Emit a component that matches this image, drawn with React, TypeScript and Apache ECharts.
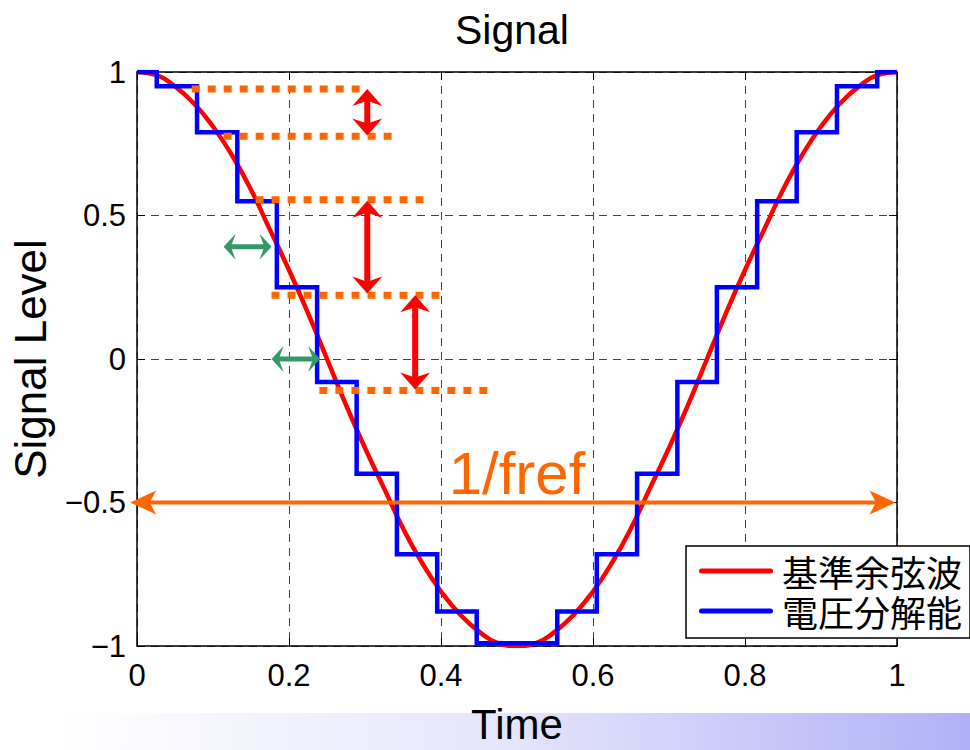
import React, { useEffect, useRef } from "react";
import * as echarts from "echarts";

// ---- axes ----
const xTickLabels = ["0", "0.2", "0.4", "0.6", "0.8", "1"];
const yTickLabels: Record<string, string> = { "-1": "−1", "-0.5": "−0.5", "0": "0", "0.5": "0.5", "1": "1" };

// ---- reference cosine (red) ----
const refTime = [
  0, 0.025, 0.05, 0.075, 0.1, 0.125, 0.15, 0.175, 0.2, 0.225, 0.25, 0.275, 0.3, 0.325, 0.35, 0.375, 0.4, 0.425, 0.45, 0.475,
  0.5, 0.525, 0.55, 0.575, 0.6, 0.625, 0.65, 0.675, 0.7, 0.725, 0.75, 0.775, 0.8, 0.825, 0.85, 0.875, 0.9, 0.925, 0.95, 0.975, 1,
];
const refLevel = [
  1, 0.99, 0.95, 0.89, 0.81, 0.71, 0.59, 0.45, 0.31, 0.16, 0, -0.16, -0.31, -0.45, -0.59, -0.71, -0.81, -0.89, -0.95, -0.99,
  -1, -0.99, -0.95, -0.89, -0.81, -0.71, -0.59, -0.45, -0.31, -0.16, 0, 0.16, 0.31, 0.45, 0.59, 0.71, 0.81, 0.89, 0.95, 0.99, 1,
];

// ---- quantised steps (blue) ----
const stepEdges = [
  0, 0.026, 0.079, 0.132, 0.184, 0.237, 0.289, 0.342, 0.395, 0.447, 0.553, 0.605, 0.658, 0.711, 0.763, 0.816, 0.868, 0.921, 0.974, 1,
];
const stepLevels = [1, 0.95, 0.79, 0.55, 0.25, -0.08, -0.4, -0.68, -0.88, -0.99, -0.88, -0.68, -0.4, -0.08, 0.25, 0.55, 0.79, 0.95, 1];

// ---- annotations (data coordinates: t1, v1, t2, v2) ----
const dottedLines = [
  [0.072, 0.941, 0.293, 0.941],
  [0.114, 0.776, 0.335, 0.776],
  [0.156, 0.555, 0.377, 0.555],
  [0.177, 0.222, 0.398, 0.222],
  [0.24, -0.11, 0.461, -0.11],
];
const redArrows = [
  [0.303, 0.941, 0.303, 0.779],
  [0.303, 0.551, 0.303, 0.228],
  [0.366, 0.222, 0.366, -0.106],
];
const greenArrows = [
  [0.114, 0.391, 0.177, 0.391],
  [0.177, 0, 0.241, 0],
];
const periodArrow = [[-0.009, -0.5, 0.998, -0.5]];
const periodLabel = [[0.5, -0.4]];
const periodText = "1/fref";

const seriesNames = ["基準余弦波", "電圧分解能"];
const RED = "#ff0000";
const BLUE = "#0000ff";
const ORANGE = "#ff6600";
const GREEN = "#339966";
const LATIN = "Liberation Sans, Arial, sans-serif";
const CJK = "Noto Sans CJK JP, sans-serif";
const LEGEND_ICON = "path://M2.5,0 L71.5,0 A2.5,2.5 0 0 1 71.5,5 L2.5,5 A2.5,2.5 0 0 1 2.5,0 Z";

function arrowShapes(a: number[], b: number[], L: number, W: number, notch: number, shaft: number, color: string) {
  const dx = b[0] - a[0];
  const dy = b[1] - a[1];
  const len = Math.sqrt(dx * dx + dy * dy) || 1;
  const ux = dx / len;
  const uy = dy / len;
  const nx = -uy;
  const ny = ux;
  const head = (tip: number[], sx: number, sy: number) => {
    const bx = tip[0] - sx * L;
    const by = tip[1] - sy * L;
    const kx = tip[0] - sx * L * notch;
    const ky = tip[1] - sy * L * notch;
    return {
      type: "polygon",
      shape: {
        points: [
          [tip[0], tip[1]],
          [bx + nx * W, by + ny * W],
          [kx, ky],
          [bx - nx * W, by - ny * W],
        ],
      },
      style: { fill: color },
    };
  };
  return [
    {
      type: "line",
      shape: {
        x1: a[0] + ux * L * notch * 0.9,
        y1: a[1] + uy * L * notch * 0.9,
        x2: b[0] - ux * L * notch * 0.9,
        y2: b[1] - uy * L * notch * 0.9,
      },
      style: { stroke: color, lineWidth: shaft },
    },
    head(b, ux, uy),
    head(a, -ux, -uy),
  ];
}

function arrowSeries(data: number[][], L: number, W: number, notch: number, shaft: number, color: string) {
  return {
    type: "custom",
    silent: true,
    clip: false,
    z: 6,
    encode: { x: [0, 2], y: [1, 3] },
    data,
    renderItem: (_p: any, api: any) => {
      const a = api.coord([api.value(0), api.value(1)]);
      const b = api.coord([api.value(2), api.value(3)]);
      return { type: "group", children: arrowShapes(a, b, L, W, notch, shaft, color) };
    },
  };
}

export default function App() {
  const ref = useRef<HTMLDivElement>(null);
  useEffect(() => {
    document.body.style.margin = "0";
    if (!ref.current) return;
    const chart = echarts.init(ref.current, null, { renderer: "svg" });

    const refData = refTime.map((t, i) => [t, refLevel[i]]);
    const stepData: number[][] = [];
    stepLevels.forEach((lv, i) => {
      stepData.push([stepEdges[i], lv]);
      stepData.push([stepEdges[i + 1], lv]);
    });

    const axisCommon = {
      type: "value",
      axisLine: { show: true, onZero: false, lineStyle: { color: "#000", width: 1.5 } },
      axisTick: { show: true, inside: true, length: 8, lineStyle: { color: "#000", width: 1 } },
    };

    chart.setOption({
      animation: false,
      backgroundColor: "#fff",
      title: {
        text: "Signal",
        left: 455,
        top: 9,
        padding: 0,
        textStyle: { fontFamily: LATIN, fontSize: 41, fontWeight: "normal", color: "#000" },
      },
      graphic: {
        elements: [
          {
            type: "rect",
            z: -100,
            silent: true,
            shape: { x: 60, y: 713, width: 910, height: 37 },
            style: {
              fill: new echarts.graphic.LinearGradient(0, 0, 1, 0, [
                { offset: 0, color: "#ffffff" },
                { offset: 0.5, color: "#e4e4fb" },
                { offset: 1, color: "#b0b0f7" },
              ]),
            },
          },
        ],
      },
      legend: {
        left: 686,
        top: 546,
        orient: "vertical",
        padding: [7, 8, 9, 13],
        itemGap: 4,
        itemWidth: 74,
        itemHeight: 5,
        icon: LEGEND_ICON,
        backgroundColor: "#fff",
        borderColor: "#000",
        borderWidth: 1.5,
        borderRadius: 0,
        textStyle: { fontFamily: CJK, fontSize: 36, lineHeight: 36, color: "#000", padding: [0, 0, 0, 4] },
        data: seriesNames,
      },
      grid: { left: 135, right: 73, top: 72, bottom: 100, containLabel: false },
      xAxis: [
        {
          ...axisCommon,
          min: 0,
          max: 1,
          interval: 0.2,
          position: "bottom",
          name: "Time",
          nameLocation: "middle",
          nameGap: 57,
          nameTextStyle: { fontFamily: LATIN, fontSize: 42, color: "#000" },
          axisLabel: {
            margin: 14,
            fontFamily: LATIN,
            fontSize: 31,
            color: "#000",
            formatter: (v: number) => xTickLabels[Math.round(v * 5)],
          },
          splitLine: { show: true, lineStyle: { color: "#444", width: 1, type: [8, 6] } },
        },
        {
          ...axisCommon,
          min: 0,
          max: 1,
          interval: 0.2,
          position: "top",
          axisLabel: { show: false },
          splitLine: { show: false },
        },
      ],
      yAxis: [
        {
          ...axisCommon,
          min: -1,
          max: 1,
          interval: 0.5,
          position: "left",
          name: "Signal Level",
          nameLocation: "middle",
          nameGap: 85,
          nameTextStyle: { fontFamily: LATIN, fontSize: 44, color: "#000" },
          axisLabel: {
            margin: 11,
            fontFamily: LATIN,
            fontSize: 31,
            color: "#000",
            formatter: (v: number) => yTickLabels[String(v)],
          },
          splitLine: { show: true, lineStyle: { color: "#444", width: 1, type: [8, 6] } },
        },
        {
          ...axisCommon,
          min: -1,
          max: 1,
          interval: 0.5,
          position: "right",
          axisLabel: { show: false },
          splitLine: { show: false },
        },
      ],
      series: [
        {
          name: seriesNames[0],
          type: "line",
          data: refData,
          smooth: true,
          showSymbol: false,
          symbol: "none",
          clip: true,
          z: 3,
          lineStyle: { color: RED, width: 4.5 },
          itemStyle: { color: RED },
        },
        {
          name: seriesNames[1],
          type: "line",
          data: stepData,
          showSymbol: false,
          symbol: "none",
          clip: true,
          z: 4,
          lineStyle: { color: BLUE, width: 4.5, join: "miter" },
          itemStyle: { color: BLUE },
        },
        {
          type: "custom",
          silent: true,
          clip: false,
          z: 5,
          encode: { x: [0, 2], y: [1, 3] },
          data: dottedLines,
          renderItem: (_p: any, api: any) => {
            const a = api.coord([api.value(0), api.value(1)]);
            const b = api.coord([api.value(2), api.value(3)]);
            return {
              type: "line",
              shape: { x1: a[0], y1: a[1], x2: b[0], y2: b[1] },
              style: { stroke: ORANGE, lineWidth: 7, lineDash: [8, 8], lineCap: "butt" },
            };
          },
        },
        arrowSeries(redArrows, 17, 15, 0.7, 6, RED),
        arrowSeries(greenArrows, 12, 13, 0.6, 5, GREEN),
        arrowSeries(periodArrow, 26, 12, 0.75, 4, ORANGE),
        {
          type: "custom",
          silent: true,
          clip: false,
          z: 6,
          encode: { x: 0, y: 1 },
          data: periodLabel,
          renderItem: (_p: any, api: any) => {
            const c = api.coord([api.value(0), api.value(1)]);
            return {
              type: "text",
              x: c[0],
              y: c[1],
              style: {
                text: periodText,
                fontFamily: LATIN,
                fontSize: 60,
                fill: ORANGE,
                align: "center",
                verticalAlign: "middle",
              },
            };
          },
        },
      ],
    });
    return () => chart.dispose();
  }, []);
  return <div ref={ref} style={{ width: 970, height: 750 }} />;
}
